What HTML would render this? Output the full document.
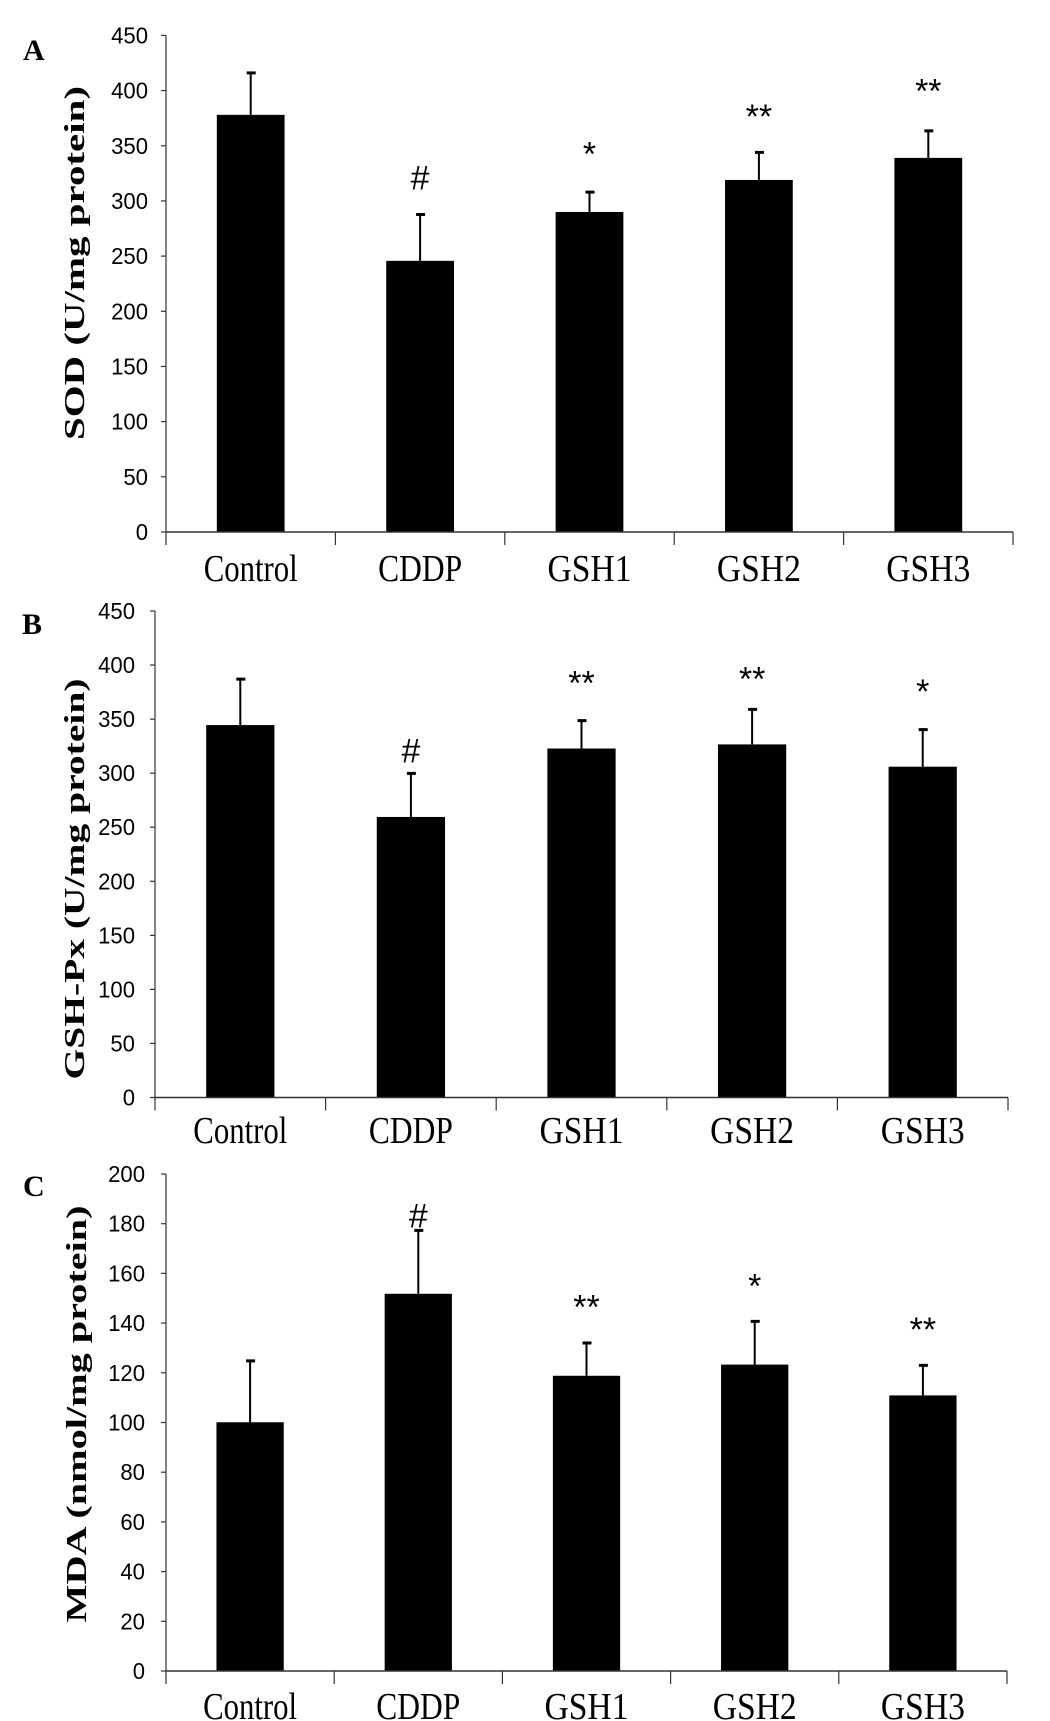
<!DOCTYPE html>
<html><head><meta charset="utf-8"><style>
html,body{margin:0;padding:0;background:#fff;}
svg{display:block;}
</style></head><body>
<svg id="fig" width="1050" height="1721" viewBox="0 0 1050 1721" xmlns="http://www.w3.org/2000/svg"></svg>
<script>
const categories = ["Control","CDDP","GSH1","GSH2","GSH3"];
const sodValues = [378, 245.7, 290, 319, 339];
const sodErrors = [38, 42, 18, 25, 24.5];
const sodMarks = ["", "#", "*", "**", "**"];
const sodMarkLevels = [0, 322, 344, 378, 401];
const sodTicks = [0,50,100,150,200,250,300,350,400,450];

const gpxValues = [344.5, 259.5, 322.8, 326.6, 306];
const gpxErrors = [42.5, 40.3, 25.8, 32.4, 34.3];
const gpxMarks = ["", "#", "**", "**", "*"];
const gpxMarkLevels = [0, 322, 385, 388.5, 377];
const gpxTicks = [0,50,100,150,200,250,300,350,400,450];

const mdaValues = [100.1, 151.8, 118.8, 123.3, 110.9];
const mdaErrors = [24.7, 25.5, 13.2, 17.4, 12.1];
const mdaMarks = ["", "#", "**", "*", "**"];
const mdaMarkLevels = [0, 183.8, 147, 155.6, 138];
const mdaTicks = [0,20,40,60,80,100,120,140,160,180,200];

const NS = "http://www.w3.org/2000/svg";
const svg = document.getElementById('fig');
function mk(tag, attrs, parent){
  const e = document.createElementNS(NS, tag);
  for (const k in attrs) e.setAttribute(k, attrs[k]);
  (parent||svg).appendChild(e);
  return e;
}
function drawPanel(p, values, errors, marks, markLevels, ticks){
  const g = mk('g', {});
  
  
  const yMax = ticks[ticks.length-1];
  const y = v => p.y0 - (v / yMax) * (p.y0 - p.yTop);
  const band = (p.xR - p.x0) / categories.length;
  const xc = i => p.x0 + band * (i + 0.5);
  const L = mk('text', {x:p.letterX, y:p.letterY, 'font-family':'Liberation Serif, serif', 'font-weight':'bold', 'font-size':30}, g);
  L.textContent = p.letter;
  
  
  const T = mk('text', {x:0, y:0, transform:`translate(${p.titleX},${p.titleY}) rotate(-90)`, 'text-anchor':'middle', 'font-family':'Liberation Serif, serif', 'font-weight':'bold', 'font-size':28, textLength:p.titleLen, lengthAdjust:'spacingAndGlyphs'}, g);
  T.textContent = p.title;
  
  
  values.forEach((v, i) => {
    const bw = band * 0.4;
    const r = mk('rect', {x:xc(i)-bw/2, y:y(v), width:bw, height:p.y0 - y(v), fill:'#000'}, g);
    
    
    const et = y(v + errors[i]);
    const el = mk('line', {x1:xc(i), x2:xc(i), y1:y(v), y2:et, stroke:'#000', 'stroke-width':2}, g);
    
    
    const cap = mk('line', {x1:xc(i)-4, x2:xc(i)+5, y1:et, y2:et, stroke:'#000', 'stroke-width':3}, g);
    
    
    if (marks[i]) {
      const m = mk('text', {x:xc(i), y:y(markLevels[i]) + 13, 'text-anchor':'middle', 'font-family':'Liberation Sans, sans-serif', 'font-size':34}, g);
      m.textContent = marks[i];
      
      
    }
    const c = mk('text', {x:xc(i), y:p.labelY, 'text-anchor':'middle', 'font-family':'Liberation Serif, serif', 'font-size':38, textLength:categories[i]==='Control'?94:84, lengthAdjust:'spacingAndGlyphs'}, g);
    c.textContent = categories[i];
    
    
  });
  const ya = mk('line', {x1:p.x0, x2:p.x0, y1:p.yTop, y2:p.y0 + 13, stroke:'#333', 'stroke-width':1.2}, g);
  
  
  const xa = mk('line', {x1:p.x0, x2:p.xR, y1:p.y0, y2:p.y0, stroke:'#333', 'stroke-width':1.5}, g);
  
  
  for (let i = 1; i <= categories.length; i++) {
    const tx = p.x0 + band * i;
    const t = mk('line', {x1:tx, x2:tx, y1:p.y0, y2:p.y0 + 13, stroke:'#333', 'stroke-width':1.2}, g);
    
    
  }
  ticks.forEach(tv => {
    const ty = y(tv);
    const t = mk('line', {x1:p.x0 - 5, x2:p.x0, y1:ty, y2:ty, stroke:'#333', 'stroke-width':1.2}, g);
    
    
    const s = String(tv);
    const lb = mk('text', {x:p.tickRight, y:ty + 8, 'text-anchor':'end', 'font-family':'Liberation Sans, sans-serif', 'font-size':23, textLength:s.length * 12.3, lengthAdjust:'spacingAndGlyphs'}, g);
    lb.textContent = s;
    
    
  });
}
drawPanel({name:'panel-a-sod', letter:'A', letterX:23, letterY:60, title:'SOD (U/mg protein)', titleX:84, titleY:263, titleLen:354,
  x0:166, xR:1013, yTop:35.4, y0:532, labelY:581, tickRight:148}, sodValues, sodErrors, sodMarks, sodMarkLevels, sodTicks);
drawPanel({name:'panel-b-gsh-px', letter:'B', letterX:22, letterY:634, title:'GSH-Px (U/mg protein)', titleX:84, titleY:879, titleLen:401,
  x0:155, xR:1008, yTop:611, y0:1097.5, labelY:1143, tickRight:135}, gpxValues, gpxErrors, gpxMarks, gpxMarkLevels, gpxTicks);
drawPanel({name:'panel-c-mda', letter:'C', letterX:23, letterY:1196, title:'MDA (nmol/mg protein)', titleX:86, titleY:1414, titleLen:417,
  x0:166, xR:1007, yTop:1174, y0:1671, labelY:1719, tickRight:145}, mdaValues, mdaErrors, mdaMarks, mdaMarkLevels, mdaTicks);
</script>
</body></html>
